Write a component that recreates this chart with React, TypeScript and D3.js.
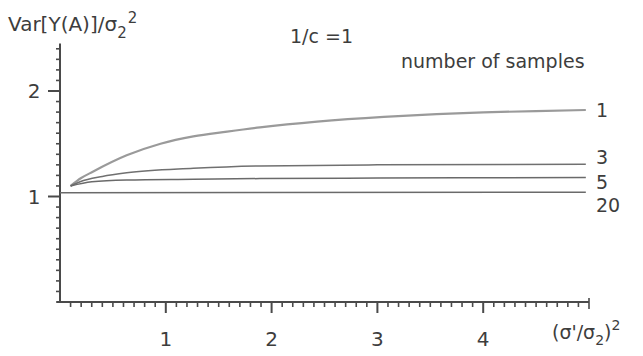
import React, { useRef, useEffect } from "react";
import * as d3 from "d3";

// samples curves
const SAMPLE_LABELS = ["1", "3", "5", "20"];
const CURVE1_X = [0.1, 0.2, 0.31, 0.63, 0.95, 1.26, 1.58, 1.89, 2.43, 3.06, 3.56, 4.0, 4.5, 4.97];
const CURVE1_Y = [1.1, 1.175, 1.235, 1.39, 1.5, 1.57, 1.615, 1.655, 1.71, 1.755, 1.78, 1.797, 1.81, 1.82];
const CURVE3_X = [0.1, 0.19, 0.4, 0.63, 1.26, 1.89, 3.0, 4.97];
const CURVE3_Y = [1.1, 1.14, 1.19, 1.225, 1.267, 1.29, 1.3, 1.305];
const CURVE5_X = [0.1, 0.3, 0.63, 1.26, 1.89, 3.0, 4.97];
const CURVE5_Y = [1.1, 1.14, 1.156, 1.163, 1.17, 1.175, 1.18];
const CURVE20_X = [0, 4.97];
const CURVE20_Y = [1.035, 1.04];

const X_TICKS = [1, 2, 3, 4];
const Y_TICKS = [1, 2];

const W = 643;
const H = 356;
const FONT = '"DejaVu Sans", sans-serif';
const INK = "#3d3d3d";

const App: React.FC = () => {
  const svgRef = useRef<SVGSVGElement | null>(null);

  useEffect(() => {
    if (!svgRef.current) return;
    const svg = d3.select(svgRef.current);
    svg.selectAll("*").remove();

    const x = d3.scaleLinear().domain([0, 5]).range([60, 589]);
    const y = d3.scaleLinear().domain([0, 2]).range([302, 91]);

    svg.append("rect").attr("width", W).attr("height", H).attr("fill", "#fff");

    const axes = svg.append("g").attr("stroke", "#4a4a4a").attr("fill", "none");

    // y axis line + ticks (pointing left)
    axes.append("line")
      .attr("x1", x(0)).attr("x2", x(0))
      .attr("y1", y(0) + 1).attr("y2", y(2.45))
      .attr("stroke-width", 2);
    d3.range(0, 25).forEach((i) => {
      const v = i / 10;
      const major = i % 10 === 0 && i > 0;
      axes.append("line")
        .attr("x1", x(0)).attr("x2", x(0) - (major ? 12 : 4))
        .attr("y1", y(v)).attr("y2", y(v))
        .attr("stroke-width", major ? 2 : 1.6);
    });

    // x axis line + ticks (pointing down)
    axes.append("line")
      .attr("x1", x(0) - 3).attr("x2", x(5))
      .attr("y1", y(0)).attr("y2", y(0))
      .attr("stroke-width", 2);
    d3.range(1, 51).forEach((i) => {
      const v = i / 10;
      const major = i % 10 === 0 && i < 50;
      axes.append("line")
        .attr("x1", x(v)).attr("x2", x(v))
        .attr("y1", i === 50 ? y(0) - 4 : y(0))
        .attr("y2", y(0) + (major ? 11 : i === 50 ? 7 : 5))
        .attr("stroke-width", major ? 2 : 1.6);
    });

    // tick labels
    const txt = svg.append("g")
      .attr("font-family", FONT)
      .attr("fill", INK);

    X_TICKS.forEach((t) => {
      txt.append("text")
        .attr("x", x(t)).attr("y", 346)
        .attr("text-anchor", "middle")
        .attr("font-size", 20)
        .text(String(t));
    });
    Y_TICKS.forEach((t) => {
      txt.append("text")
        .attr("x", 34).attr("y", y(t) + 7)
        .attr("text-anchor", "middle")
        .attr("font-size", 20)
        .text(String(t));
    });

    // y axis title  Var[Y(A)]/σ2²
    const yt = txt.append("text").attr("x", 8).attr("y", 31).attr("font-size", 20);
    yt.append("tspan").text("Var[Y(A)]/σ");
    yt.append("tspan").attr("font-size", 15).attr("dy", 7).text("2");
    yt.append("tspan").attr("font-size", 15).attr("dy", -15).attr("dx", 1).text("2");

    // x axis title (σ'/σ2)²
    const xt = txt.append("text").attr("x", 552).attr("y", 339).attr("font-size", 19);
    xt.append("tspan").text("(σ'/σ");
    xt.append("tspan").attr("font-size", 14).attr("dy", 6).text("2");
    xt.append("tspan").attr("dy", -6).text(")");
    xt.append("tspan").attr("font-size", 14).attr("dy", -9).text("2");

    txt.append("text")
      .attr("x", 290).attr("y", 43)
      .attr("font-size", 19)
      .text("1/c =1");
    txt.append("text")
      .attr("x", 401).attr("y", 68)
      .attr("font-size", 19)
      .text("number of samples");

    // curves
    const series = [
      { xs: CURVE1_X, ys: CURVE1_Y, color: "#9a9a9a", width: 2.2, dy: 7 },
      { xs: CURVE3_X, ys: CURVE3_Y, color: "#707070", width: 1.5, dy: 0 },
      { xs: CURVE5_X, ys: CURVE5_Y, color: "#6a6a6a", width: 1.5, dy: 11 },
      { xs: CURVE20_X, ys: CURVE20_Y, color: "#6a6a6a", width: 1.5, dy: 20 },
    ];
    const line = d3.line<[number, number]>()
      .x((d) => x(d[0]))
      .y((d) => y(d[1]))
      .curve(d3.curveMonotoneX);

    series.forEach((s, i) => {
      const pts = s.xs.map((v, j) => [v, s.ys[j]] as [number, number]);
      svg.append("path")
        .attr("d", line(pts))
        .attr("fill", "none")
        .attr("stroke", s.color)
        .attr("stroke-width", s.width);
      const last = pts[pts.length - 1];
      txt.append("text")
        .attr("x", 596)
        .attr("y", y(last[1]) + s.dy)
        .attr("font-size", 19)
        .text(SAMPLE_LABELS[i]);
    });
  }, []);

  return (
    <svg
      ref={svgRef}
      width={W}
      height={H}
      style={{ position: "absolute", left: 0, top: 0 }}
    />
  );
};

export default App;
